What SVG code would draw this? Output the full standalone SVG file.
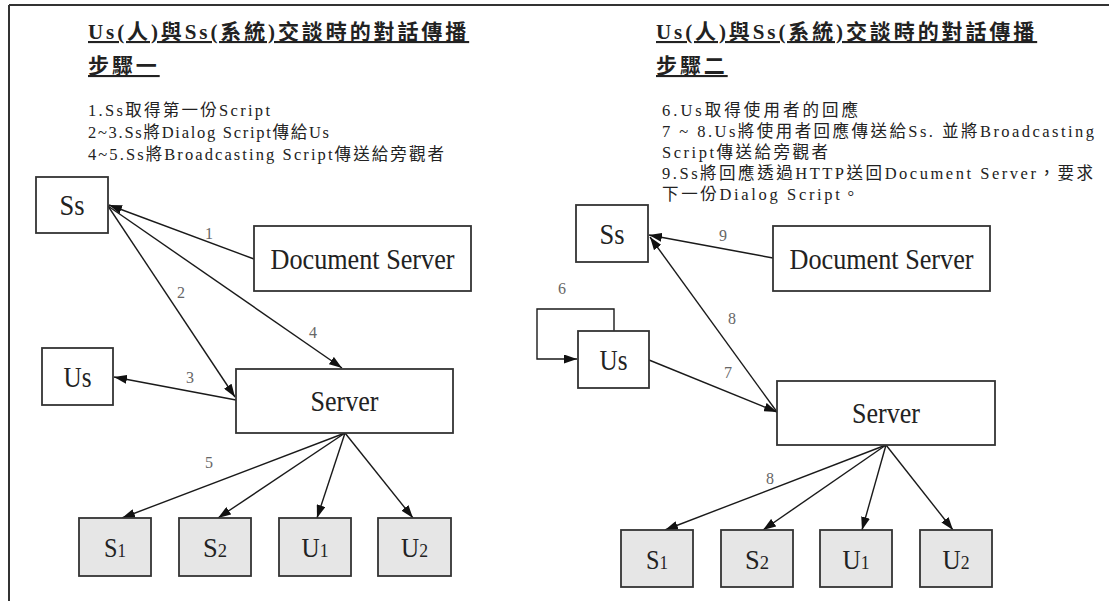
<svg xmlns="http://www.w3.org/2000/svg" width="1109" height="601" viewBox="0 0 1109 601">
  <style>
    .frame { stroke: #333; stroke-width: 2; fill: none; }
    .title { font-family: "Liberation Serif", "Noto Sans CJK TC", serif; font-size: 21px; font-weight: bold; letter-spacing: 2.9px; fill: #222; text-decoration: underline; }
    .note { font-family: "Liberation Serif", "Noto Sans CJK TC", serif; font-size: 16.5px; fill: #222; }
    .box { fill: #fff; stroke: #333; stroke-width: 1.8; }
    .peer { fill: #e6e6e6; stroke: #333; stroke-width: 1.8; }
    .nl { font-family: "Liberation Serif", serif; font-size: 30px; fill: #222; text-anchor: middle; }
    .pl { font-family: "Liberation Serif", serif; font-size: 27px; fill: #222; text-anchor: middle; }
    .sub { font-size: 19px; }
    .edge { stroke: #1a1a1a; stroke-width: 1.4; fill: none; marker-end: url(#arrow); }
    .el { font-family: "Liberation Serif", serif; font-size: 16px; fill: #666; text-anchor: middle; }
  </style>
  <defs>
    <marker id="arrow" viewBox="0 0 13 9" refX="13" refY="4.5" markerWidth="13" markerHeight="9" markerUnits="userSpaceOnUse" orient="auto">
      <path d="M0,0 L13,4.5 L0,9 z" fill="#111"/>
    </marker>
  </defs>

  <rect width="1109" height="601" fill="#fff"/>

  <!-- page frame -->
  <g id="frame">
    <line class="frame" x1="9" y1="5" x2="1109" y2="5"/>
    <line class="frame" x1="9" y1="5" x2="9" y2="601"/>
  </g>

  <!-- headings -->
  <g id="headings">
    <text class="title" x="88" y="39">Us(人)與Ss(系統)交談時的對話傳播</text>
    <text class="title" x="88" y="73">步驟一</text>
    <text class="title" x="656" y="39">Us(人)與Ss(系統)交談時的對話傳播</text>
    <text class="title" x="656" y="73">步驟二</text>
  </g>

  <!-- step notes -->
  <g id="notes-step1">
    <text class="note" x="88" y="116" textLength="182" lengthAdjust="spacing">1.Ss取得第一份Script</text>
    <text class="note" x="88" y="138" textLength="241" lengthAdjust="spacing">2~3.Ss將Dialog Script傳給Us</text>
    <text class="note" x="88" y="160" textLength="356" lengthAdjust="spacing">4~5.Ss將Broadcasting Script傳送給旁觀者</text>
  </g>
  <g id="notes-step2">
    <text class="note" x="662" y="116" textLength="196" lengthAdjust="spacing">6.Us取得使用者的回應</text>
    <text class="note" x="662" y="137" textLength="432" lengthAdjust="spacing">7 ~ 8.Us將使用者回應傳送給Ss. 並將Broadcasting</text>
    <text class="note" x="662" y="158" textLength="166" lengthAdjust="spacing">Script傳送給旁觀者</text>
    <text class="note" x="662" y="179" textLength="431" lengthAdjust="spacing">9.Ss將回應透過HTTP送回Document Server，要求</text>
    <text class="note" x="662" y="200" textLength="197" lengthAdjust="spacing">下一份Dialog Script。</text>
  </g>

  <!-- connectors -->
  <g id="connectors">
    <!-- step one -->
    <line class="edge" x1="254" y1="259" x2="109" y2="205"/>
    <line class="edge" x1="108" y1="206" x2="235" y2="397"/>
    <line class="edge" x1="108" y1="206" x2="342" y2="368"/>
    <line class="edge" x1="236" y1="400" x2="114" y2="377"/>
    <line class="edge" x1="345" y1="433" x2="122" y2="518"/>
    <line class="edge" x1="345" y1="433" x2="218" y2="518"/>
    <line class="edge" x1="345" y1="433" x2="317" y2="518"/>
    <line class="edge" x1="345" y1="433" x2="413" y2="518"/>
    <!-- step two -->
    <line class="edge" x1="773" y1="258" x2="649" y2="235"/>
    <line class="edge" x1="777" y1="412" x2="650" y2="237"/>
    <line class="edge" x1="649" y1="360" x2="777" y2="412"/>
    <polyline class="edge" points="614,331 614,309 537,309 537,359 577,359"/>
    <line class="edge" x1="886" y1="445" x2="665" y2="530"/>
    <line class="edge" x1="886" y1="445" x2="763" y2="530"/>
    <line class="edge" x1="886" y1="445" x2="862" y2="530"/>
    <line class="edge" x1="886" y1="445" x2="953" y2="530"/>
  </g>

  <!-- connector labels -->
  <g id="connector-labels">
    <text class="el" x="209" y="239">1</text>
    <text class="el" x="181" y="298">2</text>
    <text class="el" x="190" y="383">3</text>
    <text class="el" x="313" y="338">4</text>
    <text class="el" x="209" y="468">5</text>
    <text class="el" x="562" y="294">6</text>
    <text class="el" x="728" y="378">7</text>
    <text class="el" x="732" y="324">8</text>
    <text class="el" x="723" y="241">9</text>
    <text class="el" x="770" y="484">8</text>
  </g>

  <!-- step one nodes -->
  <g id="ss-1">
    <rect class="box" x="36" y="177" width="72" height="56"/>
    <text class="nl" x="72" y="215" textLength="25" lengthAdjust="spacingAndGlyphs">Ss</text>
  </g>
  <g id="docserver-1">
    <rect class="box" x="254" y="226" width="217" height="65"/>
    <text class="nl" x="362.5" y="269" textLength="184" lengthAdjust="spacingAndGlyphs">Document Server</text>
  </g>
  <g id="us-1">
    <rect class="box" x="42" y="348" width="71" height="57"/>
    <text class="nl" x="77.5" y="387" textLength="28" lengthAdjust="spacingAndGlyphs">Us</text>
  </g>
  <g id="server-1">
    <rect class="box" x="236" y="369" width="217" height="64"/>
    <text class="nl" x="344.5" y="411" textLength="68" lengthAdjust="spacingAndGlyphs">Server</text>
  </g>
  <g id="s1-1">
    <rect class="peer" x="79" y="518" width="72" height="58"/>
    <text class="pl" x="115" y="557" textLength="22" lengthAdjust="spacingAndGlyphs">S<tspan class="sub">1</tspan></text>
  </g>
  <g id="s2-1">
    <rect class="peer" x="179" y="518" width="72" height="58"/>
    <text class="pl" x="215" y="557" textLength="24" lengthAdjust="spacingAndGlyphs">S<tspan class="sub">2</tspan></text>
  </g>
  <g id="u1-1">
    <rect class="peer" x="279" y="518" width="72" height="58"/>
    <text class="pl" x="315" y="557" textLength="27" lengthAdjust="spacingAndGlyphs">U<tspan class="sub">1</tspan></text>
  </g>
  <g id="u2-1">
    <rect class="peer" x="378" y="518" width="73" height="58"/>
    <text class="pl" x="414.5" y="557" textLength="27" lengthAdjust="spacingAndGlyphs">U<tspan class="sub">2</tspan></text>
  </g>

  <!-- step two nodes -->
  <g id="ss-2">
    <rect class="box" x="576" y="205" width="72" height="57"/>
    <text class="nl" x="612" y="244" textLength="25" lengthAdjust="spacingAndGlyphs">Ss</text>
  </g>
  <g id="docserver-2">
    <rect class="box" x="773" y="226" width="217" height="65"/>
    <text class="nl" x="881.5" y="269" textLength="184" lengthAdjust="spacingAndGlyphs">Document Server</text>
  </g>
  <g id="us-2">
    <rect class="box" x="578" y="331" width="71" height="57"/>
    <text class="nl" x="613.5" y="370" textLength="28" lengthAdjust="spacingAndGlyphs">Us</text>
  </g>
  <g id="server-2">
    <rect class="box" x="777" y="381" width="218" height="64"/>
    <text class="nl" x="886" y="423" textLength="68" lengthAdjust="spacingAndGlyphs">Server</text>
  </g>
  <g id="s1-2">
    <rect class="peer" x="621" y="530" width="72" height="57"/>
    <text class="pl" x="657" y="569" textLength="22" lengthAdjust="spacingAndGlyphs">S<tspan class="sub">1</tspan></text>
  </g>
  <g id="s2-2">
    <rect class="peer" x="721" y="530" width="72" height="57"/>
    <text class="pl" x="757" y="569" textLength="24" lengthAdjust="spacingAndGlyphs">S<tspan class="sub">2</tspan></text>
  </g>
  <g id="u1-2">
    <rect class="peer" x="820" y="530" width="72" height="57"/>
    <text class="pl" x="856" y="569" textLength="27" lengthAdjust="spacingAndGlyphs">U<tspan class="sub">1</tspan></text>
  </g>
  <g id="u2-2">
    <rect class="peer" x="920" y="530" width="72" height="57"/>
    <text class="pl" x="956" y="569" textLength="27" lengthAdjust="spacingAndGlyphs">U<tspan class="sub">2</tspan></text>
  </g>
</svg>
